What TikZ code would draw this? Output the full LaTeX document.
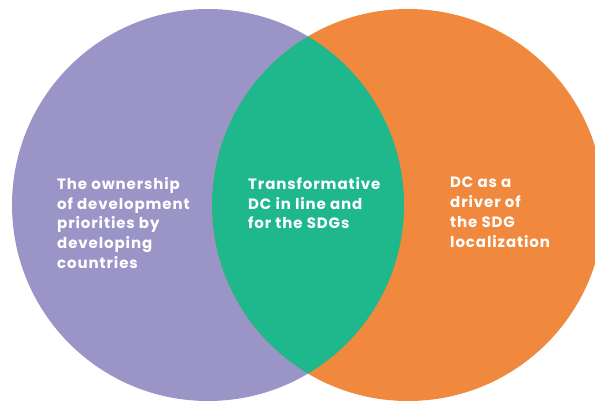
\documentclass[tikz,border=0pt]{standalone}
\usepackage{fontspec}
\setmainfont{Poppins}[LetterSpace=6]
\definecolor{vpurple}{HTML}{9B95C7}
\definecolor{vgreen}{HTML}{1FB78C}
\definecolor{vorange}{HTML}{F0883E}

\begin{document}
\begin{tikzpicture}[x=1pt, y=-1pt,
    every node/.style = {text=white, align=left, anchor=north west,
    inner sep=0pt, font=\bfseries\fontsize{15}{19.8}\selectfont},
    cpurple/.style={fill=vpurple},
    corange/.style={fill=vorange},
    cgreen/.style={fill=vgreen}]
    \clip (0,0) rectangle (595,402);
    \coordinate (lc) at (208,205);
    \coordinate (rc) at (408,205);
    \fill[cpurple] (lc) circle (196pt);
    \fill[corange] (rc) circle (196pt);
    \begin{scope}
        \clip (lc) circle (196pt);
        \fill[cgreen] (rc) circle (196pt);
    \end{scope}
    \node (own) at (57,177) {The ownership\\of development\\priorities by\\developing\\countries};
    \node (trans) at (248,177) {Transformative\\DC in line and\\for the SDGs};
    \node (drv) at (450,177) {DC as a\\driver of\\the SDG\\localization};
\end{tikzpicture}
\end{document}
